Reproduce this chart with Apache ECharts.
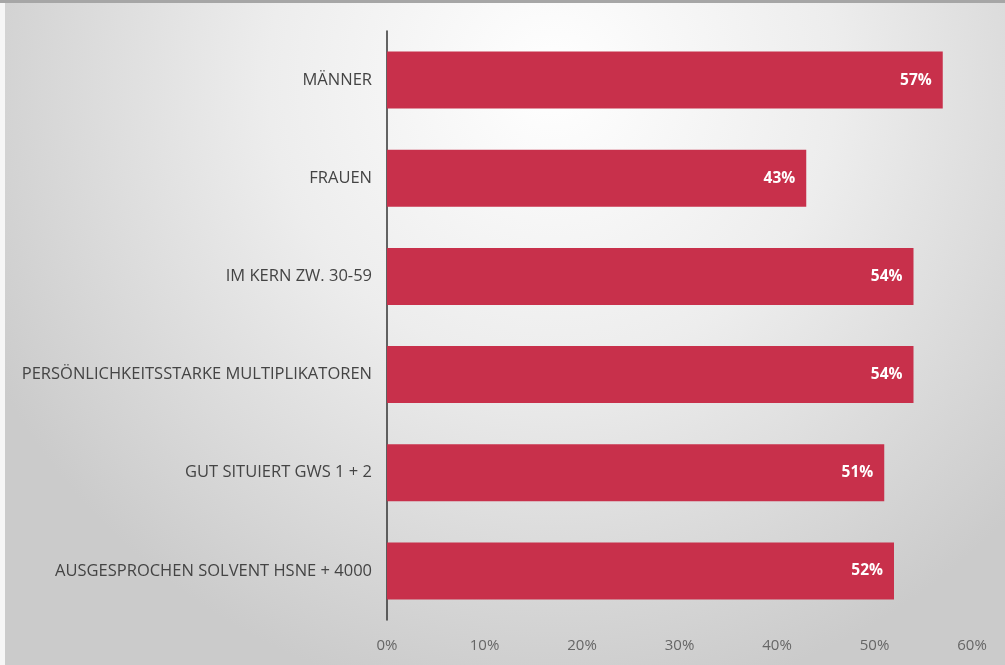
<!DOCTYPE html>
<html>
<head>
<meta charset="utf-8">
<script src="https://cdn.jsdelivr.net/npm/echarts@6/dist/echarts.min.js"></script>
<style>html,body{margin:0;padding:0;background:#fff}#c{width:1005px;height:665px}</style>
</head>
<body>
<div id="c"></div>
<script>
const categories = ["MÄNNER", "FRAUEN", "IM KERN ZW. 30-59", "PERSÖNLICHKEITSSTARKE MULTIPLIKATOREN", "GUT SITUIERT GWS 1 + 2", "AUSGESPROCHEN SOLVENT HSNE + 4000"];
const values = [57, 43, 54, 54, 51, 52];
const tickLabels = ["0%", "10%", "20%", "30%", "40%", "50%", "60%"];

const chart = echarts.init(document.getElementById('c'), null, {renderer: 'canvas'});
const font = "'Open Sans', sans-serif";
chart.setOption({
  backgroundColor: {
    type: 'radial', x: 0.55, y: 0.12, r: 0.95,
    colorStops: [
      {offset: 0, color: '#ffffff'},
      {offset: 0.45, color: '#ededed'},
      {offset: 1, color: '#cbcbcb'}
    ]
  },
  graphic: [
    {type: 'rect', left: 0, top: 0, shape: {width: 1005, height: 3}, style: {fill: '#a6a6a6'}},
    {type: 'rect', left: 0, top: 3, shape: {width: 5, height: 662}, style: {fill: '#f6f6f6'}}
  ],
  grid: {left: 387, right: 33, top: 31, bottom: 45, containLabel: false},
  xAxis: {
    type: 'value', min: 0, max: 60, interval: 10,
    axisLine: {show: false}, axisTick: {show: false}, splitLine: {show: false},
    axisLabel: {
      color: '#666', fontSize: 15, fontFamily: font, margin: 18,
      formatter: v => tickLabels[Math.round(v / 10)]
    }
  },
  yAxis: {
    type: 'category', data: categories, inverse: true,
    axisLine: {show: true, lineStyle: {color: '#333', width: 1.5}},
    axisTick: {show: false},
    axisLabel: {color: '#444', fontSize: 16.5, fontFamily: font, margin: 15}
  },
  series: [{
    type: 'bar', data: values, barWidth: '58%',
    itemStyle: {color: '#c8304b'},
    label: {
      show: true, position: 'insideRight', distance: 11,
      color: '#fff', fontWeight: 'bold', fontSize: 15.5, fontFamily: font,
      formatter: p => p.value + '%'
    }
  }]
});
</script>
</body>
</html>
